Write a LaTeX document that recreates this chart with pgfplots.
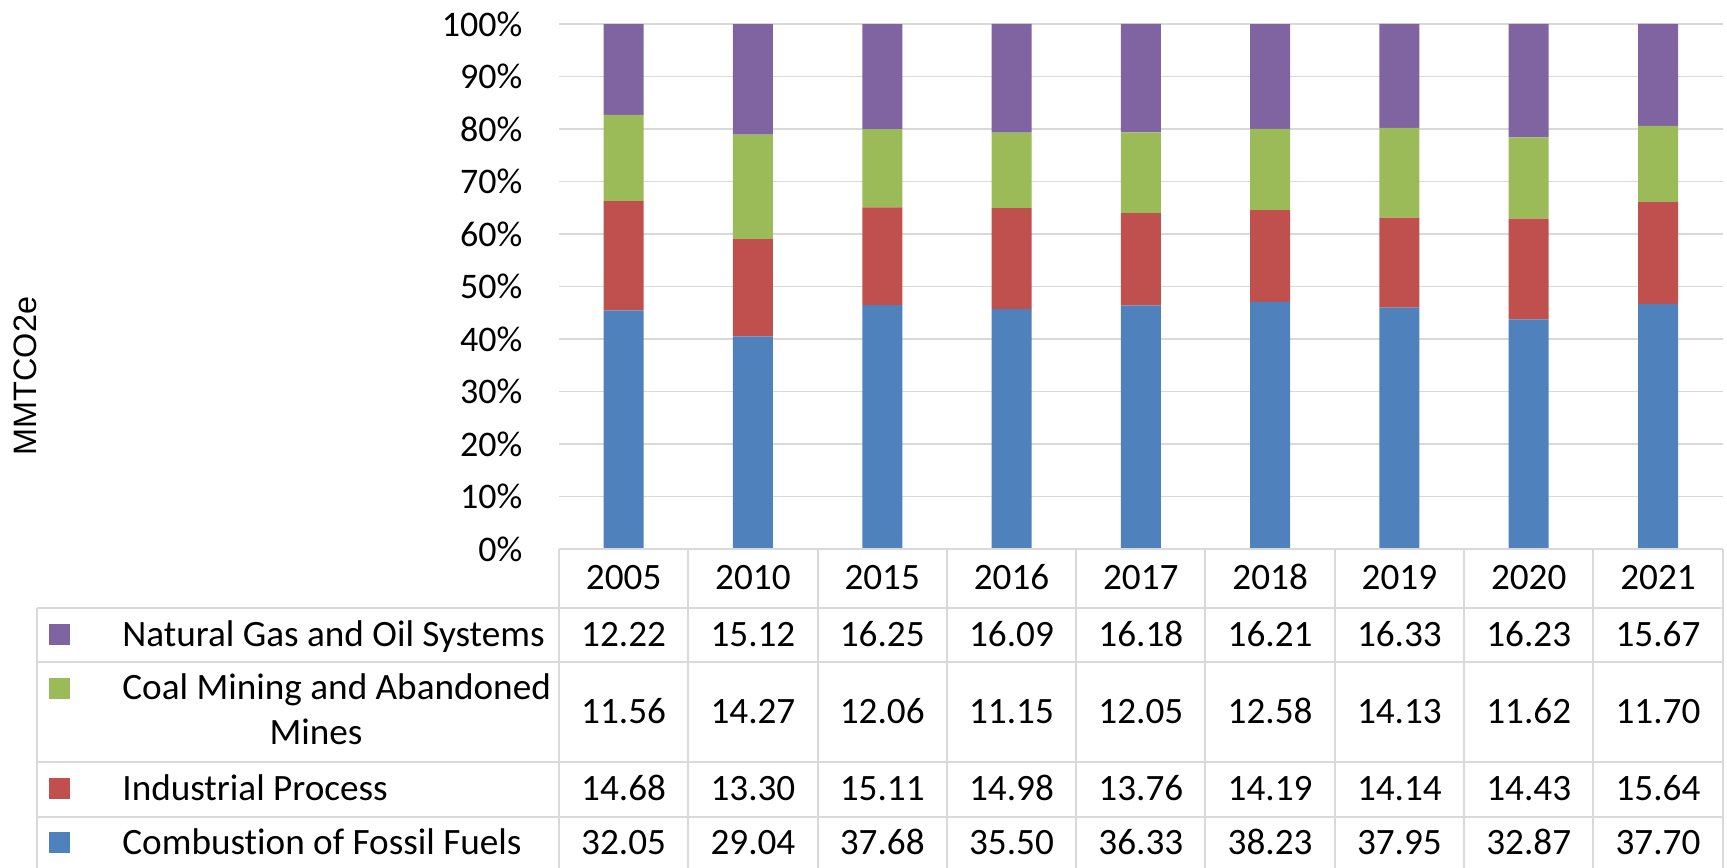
\documentclass[border=0pt]{standalone}
\usepackage{fontspec}
\setmainfont{Carlito}[Ligatures=NoCommon]
\newfontfamily\arialfont{Liberation Sans}
\usepackage{pgfplots}
\usepackage{pgfplotstable}
\pgfplotsset{compat=1.18}
\definecolor{cblue}{HTML}{4F81BD}
\definecolor{cred}{HTML}{C0504D}
\definecolor{cgreen}{HTML}{9BBB59}
\definecolor{cpurple}{HTML}{8064A2}
\definecolor{gridgray}{HTML}{D9D9D9}
\pgfplotstableread{
year gas coal ind comb
2005 12.22 11.56 14.68 32.05
2010 15.12 14.27 13.30 29.04
2015 16.25 12.06 15.11 37.68
2016 16.09 11.15 14.98 35.50
2017 16.18 12.05 13.76 36.33
2018 16.21 12.58 14.19 38.23
2019 16.33 14.13 14.14 37.95
2020 16.23 11.62 14.43 32.87
2021 15.67 11.70 15.64 37.70
}\datatable
\newcommand{\chartfont}{\fontsize{18bp}{21.6bp}\selectfont}
\newcommand{\tablefont}{\fontsize{18.6bp}{22bp}\selectfont}
\begin{document}
\begin{tikzpicture}
\useasboundingbox (0bp,0bp) rectangle (863.5bp,-434bp);
\begin{axis}[
  at={(279.5bp,-274.5bp)}, anchor=south west,
  scale only axis, width=581.85bp, height=262.5bp,
  xmin=-0.5, xmax=8.5, ymin=0, ymax=100,
  enlargelimits=false, clip=false,
  ybar stacked, bar width=20bp,
  xtick=\empty,
  ytick={0,10,...,100},
  yticklabels={0\%,10\%,20\%,30\%,40\%,50\%,60\%,70\%,80\%,90\%,100\%},
  yticklabel style={anchor=east, inner sep=0pt, xshift=-18.15bp, font=\chartfont},
  major tick length=0pt,
  tick style={draw=none},
  axis line style={draw=none},
  ymajorgrids,
  grid style={color=gridgray, line width=0.85bp},
]
\addplot[fill=cblue, draw=none] table[x expr=\coordindex, y expr={100*\thisrow{comb}/(\thisrow{gas}+\thisrow{coal}+\thisrow{ind}+\thisrow{comb})}] {\datatable};
\addplot[fill=cred, draw=none] table[x expr=\coordindex, y expr={100*\thisrow{ind}/(\thisrow{gas}+\thisrow{coal}+\thisrow{ind}+\thisrow{comb})}] {\datatable};
\addplot[fill=cgreen, draw=none] table[x expr=\coordindex, y expr={100*\thisrow{coal}/(\thisrow{gas}+\thisrow{coal}+\thisrow{ind}+\thisrow{comb})}] {\datatable};
\addplot[fill=cpurple, draw=none] table[x expr=\coordindex, y expr={100*\thisrow{gas}/(\thisrow{gas}+\thisrow{coal}+\thisrow{ind}+\thisrow{comb})}] {\datatable};
\end{axis}
\begin{scope}[x=0.5bp,y=-0.5bp]
  % table grid
  \begin{scope}[draw=gridgray, line width=1bp]
    \draw (559,549) -- (1722.7,549);
    \foreach \yy in {608,661.7,761.7,816.7} \draw (37.5,\yy) -- (1722.7,\yy);
    \draw (37.5,608) -- (37.5,875);
    \foreach \k in {0,...,9} \draw ({559+129.3*\k},549) -- ({559+129.3*\k},875);
  \end{scope}
  % legend keys
  \fill[cpurple] (49,624.2) rectangle (70,645.2);
  \fill[cgreen] (49,678) rectangle (70,699);
  \fill[cred] (49,778) rectangle (70,799);
  \fill[cblue] (49,832.5) rectangle (70,853.5);
  \begin{scope}[every node/.style={inner sep=0pt, font=\tablefont}]
    \node[anchor=base west] at (122,646.4) {Natural Gas and Oil Systems};
    \node[anchor=base west] at (122,699.6) {Coal Mining and Abandoned};
    \node[anchor=base] at (316,744.6) {Mines};
    \node[anchor=base west] at (122,800.6) {Industrial Process};
    \node[anchor=base west] at (122,854.6) {Combustion of Fossil Fuels};
    \foreach \i in {0,...,8} {
      \pgfmathsetmacro\cx{623.65+129.3*\i}
      \pgfplotstablegetelem{\i}{year}\of\datatable
      \node[anchor=base] at (\cx,590) {\pgfplotsretval};
      \pgfplotstablegetelem{\i}{gas}\of\datatable
      \node[anchor=base] at (\cx,646.2) {\pgfplotsretval};
      \pgfplotstablegetelem{\i}{coal}\of\datatable
      \node[anchor=base] at (\cx,723.1) {\pgfplotsretval};
      \pgfplotstablegetelem{\i}{ind}\of\datatable
      \node[anchor=base] at (\cx,800.6) {\pgfplotsretval};
      \pgfplotstablegetelem{\i}{comb}\of\datatable
      \node[anchor=base] at (\cx,854.4) {\pgfplotsretval};
    }
  \end{scope}
  \node[rotate=90, inner sep=0pt, font=\arialfont\fontsize{16.2bp}{19bp}\selectfont] at (25,376) {MMTCO2e};
\end{scope}
\end{tikzpicture}
\end{document}
